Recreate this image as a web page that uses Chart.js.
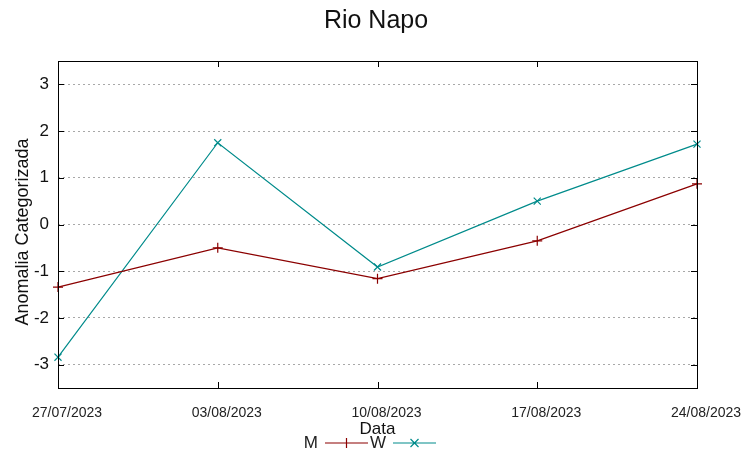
<!DOCTYPE html>
<html>
<head>
<meta charset="utf-8">
<script src="https://cdn.jsdelivr.net/npm/chart.js@4/dist/chart.umd.min.js"></script>
<style>
  body { margin: 0; background: #fff; }
  canvas { display: block; }
</style>
</head>
<body>
<canvas id="grafico" width="752" height="458"></canvas>
<script>
// datos
var fechas = ["27/07/2023", "03/08/2023", "10/08/2023", "17/08/2023", "24/08/2023"];
var valoresM = [-1.34, -0.50, -1.16, -0.35, 0.87];
var valoresW = [-2.84, 1.75, -0.91, 0.50, 1.72];
var ticksY = [-3, -2, -1, 0, 1, 2, 3];

var colorM = "#8b0000";
var colorW = "#008b8b";

// marcos, ticks hacia adentro y leyenda estilo gnuplot
const marcoGnuplot = {
  id: "marcoGnuplot",
  afterDraw(chart) {
    const ctx = chart.ctx;
    const a = chart.chartArea;
    const x = chart.scales.x;
    const y = chart.scales.y;

    ctx.save();
    ctx.strokeStyle = "#000";
    ctx.lineWidth = 1;
    ctx.strokeRect(Math.round(a.left) + 0.5, Math.round(a.top) + 0.5,
      Math.round(a.right - a.left), Math.round(a.bottom - a.top));

    ctx.beginPath();
    for (let i = 0; i < fechas.length; i++) {
      const px = Math.round(x.getPixelForValue(i)) + 0.5;
      ctx.moveTo(px, a.bottom);
      ctx.lineTo(px, a.bottom - 6);
      ctx.moveTo(px, a.top);
      ctx.lineTo(px, a.top + 6);
    }
    for (let i = 0; i < ticksY.length; i++) {
      const py = Math.round(y.getPixelForValue(ticksY[i])) + 0.5;
      ctx.moveTo(a.left, py);
      ctx.lineTo(a.left + 6, py);
      ctx.moveTo(a.right, py);
      ctx.lineTo(a.right - 6, py);
    }
    ctx.stroke();

    // leyenda
    ctx.font = "17px 'Liberation Sans', Arial, sans-serif";
    ctx.textBaseline = "middle";
    ctx.textAlign = "right";
    const yLey = 443;
    let xTexto = 318;
    chart.data.datasets.forEach(function (ds) {
      ctx.fillStyle = "#222";
      ctx.fillText(ds.label, xTexto, yLey);
      const x0 = xTexto + 7;
      const x1 = x0 + 43;
      const xm = (x0 + x1) / 2;
      ctx.strokeStyle = ds.borderColor;
      ctx.lineWidth = 1.2;
      ctx.beginPath();
      ctx.moveTo(x0, yLey);
      ctx.lineTo(x1, yLey);
      if (ds.pointStyle === "cross") {
        ctx.moveTo(xm, yLey - 5);
        ctx.lineTo(xm, yLey + 5);
      } else {
        ctx.moveTo(xm - 4, yLey - 4);
        ctx.lineTo(xm + 4, yLey + 4);
        ctx.moveTo(xm - 4, yLey + 4);
        ctx.lineTo(xm + 4, yLey - 4);
      }
      ctx.stroke();
      xTexto += 68;
    });
    ctx.restore();
  }
};

const datos = {
  labels: fechas,
  datasets: [
    {
      label: "M",
      data: valoresM,
      borderColor: colorM,
      backgroundColor: colorM,
      borderWidth: 1.2,
      pointStyle: "cross",
      pointRadius: 5,
      pointBorderWidth: 1.2,
      tension: 0,
    },
    {
      label: "W",
      data: valoresW,
      borderColor: colorW,
      backgroundColor: colorW,
      borderWidth: 1.2,
      pointStyle: "crossRot",
      pointRadius: 5,
      pointBorderWidth: 1.2,
      tension: 0,
    },
  ],
};

const config = {
  type: "line",
  data: datos,
  options: {
    responsive: false,
    animation: false,
    devicePixelRatio: 1,
    layout: { padding: 0 },
    plugins: {
      legend: { display: false },
      tooltip: { enabled: false },
      title: {
        display: true,
        text: "Rio Napo",
        color: "#111",
        font: { family: "'Liberation Sans', Arial, sans-serif", size: 25, weight: "normal" },
        padding: { top: 6, bottom: 25 },
      },
    },
    scales: {
      x: {
        type: "category",
        offset: false,
        grid: { display: false, drawTicks: false },
        border: { display: false },
        ticks: {
          color: "#222",
          maxRotation: 0,
          autoSkip: false,
          padding: 17,
          labelOffset: 9,
          font: { family: "'Liberation Sans', Arial, sans-serif", size: 14 },
        },
        title: {
          display: true,
          text: "Data",
          color: "#111",
          font: { family: "'Liberation Sans', Arial, sans-serif", size: 17 },
          padding: { top: 0, bottom: 18 },
        },
        afterFit(scale) {
          // el margen derecho deja el titulo centrado en todo el lienzo
          scale.height = 70;
          scale.paddingLeft = 0;
          scale.paddingRight = 55;
        },
      },
      y: {
        min: -3.5,
        max: 3.5,
        afterBuildTicks(scale) {
          scale.ticks = ticksY.map(function (v) { return { value: v }; });
        },
        grid: { color: "#a8a8a8", lineWidth: 1, drawTicks: false },
        border: { display: false, dash: [2, 3] },
        ticks: {
          color: "#111",
          padding: 9,
          font: { family: "'Liberation Sans', Arial, sans-serif", size: 17 },
        },
        title: {
          display: true,
          text: "Anomalia Categorizada   ",
          color: "#111",
          font: { family: "'Liberation Sans', Arial, sans-serif", size: 18 },
          padding: { top: 12, bottom: 0 },
        },
        afterFit(scale) {
          scale.width = 58;
        },
      },
    },
  },
  plugins: [marcoGnuplot],
};

const ctx = document.getElementById("grafico").getContext("2d");
new Chart(ctx, config);
</script>
</body>
</html>
